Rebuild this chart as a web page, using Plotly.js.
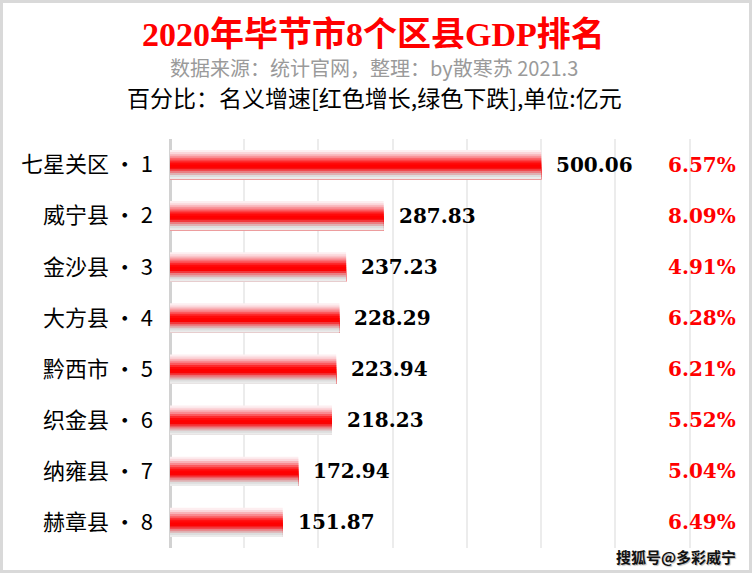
<!DOCTYPE html>
<html>
<head>
<meta charset="utf-8">
<script src="https://cdn.plot.ly/plotly-3.0.1.min.js"></script>
<style>
html,body{margin:0;padding:0;background:#fff;}
#chart{width:746px;height:567px;border:3px solid #d9d9d9;}
</style>
</head>
<body>
<div id="chart"></div>
<script>
// Data
var regions = ["七星关区 · 1","威宁县 · 2","金沙县 · 3","大方县 · 4","黔西市 · 5","织金县 · 6","纳雍县 · 7","赫章县 · 8"];
var gdp = [500.06, 287.83, 237.23, 228.29, 223.94, 218.23, 172.94, 151.87];
var growth = ["6.57%","8.09%","4.91%","6.28%","6.21%","5.52%","5.04%","6.49%"];
var titleText = "2020年毕节市8个区县GDP排名";
var sourceText = "数据来源：统计官网，整理：by散寒苏 2021.3";
var noteText = "百分比：名义增速[红色增长,绿色下跌],单位:亿元";
var watermark = "搜狐号@多彩威宁";

// gradient bands (top -> bottom) to imitate the shaded bar; each band covers down to the bottom
var bandColors = ["#fdeef0","#fbd6da","#f9b2b7","#f98a90","#fb5a5e","#fd2a2c","#ff0a0a","#ff0000","#fa0404","#f2383c","#ea7e82","#dfb0b2","#dddddd","#ebebeb"];
var total = 0.57;
var bw = total / bandColors.length;
var traces = bandColors.map(function(c, i){
  return {
    type: "bar", orientation: "h",
    x: gdp, y: regions,
    width: total - i*bw, offset: -total/2 + i*bw,
    marker: {color: c, line: {width: 0}},
    hoverinfo: "skip", showlegend: false
  };
});

var annotations = [];
var plotTop = 136, plotH = 409;
function py(Y){ return (plotH + plotTop - (Y - 3)) / plotH; } // page pixel -> paper y
annotations.push({xref:"paper", yref:"paper", x:0.352, y:py(35), xanchor:"center", yanchor:"middle", showarrow:false,
  text:"<b>"+titleText+"</b>", font:{family:"Liberation Serif, Noto Sans CJK SC", size:34, color:"#ff0000"}});
annotations.push({xref:"paper", yref:"paper", x:0.352, y:py(67), xanchor:"center", yanchor:"middle", showarrow:false,
  text:sourceText, font:{family:"Noto Sans CJK SC, Roboto", size:20, color:"#9a9a9a"}});
annotations.push({xref:"paper", yref:"paper", x:0.354, y:py(97), xanchor:"center", yanchor:"middle", showarrow:false,
  text:noteText, font:{family:"Noto Sans CJK SC, Roboto", size:23, color:"#000000"}});
for (var i = 0; i < regions.length; i++) {
  annotations.push({x: gdp[i], y: regions[i], xref:"x", yref:"y", xanchor:"left", yanchor:"middle", xshift:13, showarrow:false,
    text:"<b>"+gdp[i].toFixed(2)+"</b>", font:{family:"DejaVu Serif", size:20, color:"#000"}});
  annotations.push({x: 0.981, y: regions[i], xref:"paper", yref:"y", xanchor:"right", yanchor:"middle", showarrow:false,
    text:"<b>"+growth[i]+"</b>", font:{family:"DejaVu Serif", size:20, color:"#ff0000"}});
}
annotations.push({xref:"paper", yref:"paper", x:0.981, y:py(556), xanchor:"right", yanchor:"middle", showarrow:false,
  text:"<b>"+watermark+"</b>", font:{family:"Noto Sans CJK SC", size:15, color:"#111", shadow:"1px 1px 1px #bbb"}});

var layout = {
  width: 746, height: 567,
  margin: {l:167, r:0, t:136, b:22, pad:0},
  paper_bgcolor: "#fff", plot_bgcolor: "#fff",
  barmode: "overlay",
  showlegend: false,
  xaxis: {range:[0, 780], dtick:100, tick0:0, showticklabels:false, showgrid:true, gridcolor:"#ececec", gridwidth:2,
          zeroline:true, zerolinecolor:"#d2d2d2", zerolinewidth:3, fixedrange:true},
  yaxis: {type:"category", autorange:"reversed", showgrid:false, zeroline:false, showline:false, ticks:"",
          ticklabelstandoff:16, tickfont:{family:"Noto Sans CJK SC, Roboto", size:22, color:"#000"}, fixedrange:true},
  annotations: annotations
};
Plotly.newPlot("chart", traces, layout, {displayModeBar:false, staticPlot:true});
</script>
</body>
</html>
